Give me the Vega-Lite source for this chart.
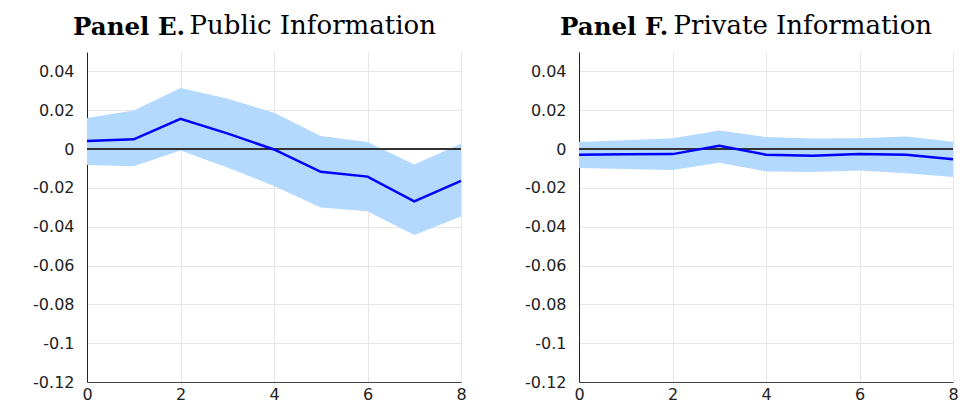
{
  "$schema": "https://vega.github.io/schema/vega-lite/v6.json",
  "padding": {"left": 32, "top": 12, "right": 0, "bottom": 0},
  "background": "white",
  "config": {
    "view": {"stroke": null},
    "axis": {"labelFont": "DejaVu Sans", "labelFontSize": 16, "labelColor": "#222222", "ticks": false, "gridColor": "#e6e6e6", "gridWidth": 1, "labelFlush": false}
  },
  "datasets": {
    "irf": [
      {"panel": "E", "t": 0, "lo": -0.0082, "mid": 0.0041, "hi": 0.016},
      {"panel": "E", "t": 1, "lo": -0.0089, "mid": 0.005, "hi": 0.0199},
      {"panel": "E", "t": 2, "lo": -0.0007, "mid": 0.0156, "hi": 0.0315},
      {"panel": "E", "t": 3, "lo": -0.0095, "mid": 0.0081, "hi": 0.026},
      {"panel": "E", "t": 4, "lo": -0.019, "mid": -0.0002, "hi": 0.0187},
      {"panel": "E", "t": 5, "lo": -0.0301, "mid": -0.0117, "hi": 0.0067},
      {"panel": "E", "t": 6, "lo": -0.032, "mid": -0.0142, "hi": 0.0037},
      {"panel": "E", "t": 7, "lo": -0.0443, "mid": -0.0269, "hi": -0.0079},
      {"panel": "E", "t": 8, "lo": -0.0348, "mid": -0.0164, "hi": 0.0027},
      {"panel": "F", "t": 0, "lo": -0.0098, "mid": -0.0029, "hi": 0.0036},
      {"panel": "F", "t": 1, "lo": -0.0103, "mid": -0.0027, "hi": 0.0046},
      {"panel": "F", "t": 2, "lo": -0.0108, "mid": -0.0026, "hi": 0.0056},
      {"panel": "F", "t": 3, "lo": -0.007, "mid": 0.0017, "hi": 0.0096},
      {"panel": "F", "t": 4, "lo": -0.0115, "mid": -0.0029, "hi": 0.0062},
      {"panel": "F", "t": 5, "lo": -0.0118, "mid": -0.0034, "hi": 0.0055},
      {"panel": "F", "t": 6, "lo": -0.0111, "mid": -0.0026, "hi": 0.0056},
      {"panel": "F", "t": 7, "lo": -0.0125, "mid": -0.0029, "hi": 0.0065},
      {"panel": "F", "t": 8, "lo": -0.0144, "mid": -0.0053, "hi": 0.0038}
    ]
  },
  "data": {"name": "irf"},
  "bounds": "flush",
  "spacing": 118,
  "hconcat": [
    {
      "width": 374,
      "height": 330,
      "title": {"text": "Panel E.", "anchor": "start", "frame": "group", "dx": -14, "dy": 47, "offset": 0, "baseline": "alphabetic", "font": "DejaVu Serif", "fontSize": 24.5, "fontWeight": "bold", "color": "#000000"},
      "transform": [{"filter": "datum.panel === 'E'"}],
      "resolve": {"axis": {"x": "independent", "y": "independent"}},
      "layer": [
        {
          "mark": {"type": "area", "color": "#b3d9ff", "opacity": 1},
          "encoding": {
            "x": {"field": "t", "type": "quantitative", "scale": {"domain": [0, 8], "nice": false, "zero": false},
                  "axis": {"orient": "bottom", "title": null, "values": [0, 2, 4, 6, 8], "grid": true, "domainColor": "#444444", "labelPadding": 4}},
            "y": {"field": "lo", "type": "quantitative", "scale": {"domain": [-0.12, 0.05], "nice": false, "zero": false},
                  "axis": {"title": null, "values": [-0.12, -0.1, -0.08, -0.06, -0.04, -0.02, 0, 0.02, 0.04], "grid": true, "domainColor": "#222222", "labelPadding": 13, "labelExpr": "toString(datum.value)"}},
            "y2": {"field": "hi"}
          }
        },
        {
          "mark": {"type": "rule", "color": "#333333", "strokeWidth": 1},
          "encoding": {"y": {"datum": 0, "type": "quantitative", "axis": null}}
        },
        {
          "mark": {"type": "line", "color": "#0000ff", "strokeWidth": 2.5},
          "encoding": {
            "x": {"field": "t", "type": "quantitative",
                  "axis": {"orient": "top", "labels": false, "domain": false, "grid": false, "title": "Public Information", "titleFont": "DejaVu Serif", "titleFontSize": 26, "titleFontWeight": "normal", "titleColor": "#000000", "titleAnchor": null, "titleAlign": "left", "titleBaseline": "alphabetic", "titleX": 102, "titleY": -19, "titlePadding": 0}},
            "y": {"field": "mid", "type": "quantitative", "axis": null}
          }
        }
      ]
    },
    {
      "width": 374,
      "height": 330,
      "title": {"text": "Panel F.", "anchor": "start", "frame": "group", "dx": -19, "dy": 47, "offset": 0, "baseline": "alphabetic", "font": "DejaVu Serif", "fontSize": 24.5, "fontWeight": "bold", "color": "#000000"},
      "transform": [{"filter": "datum.panel === 'F'"}],
      "resolve": {"axis": {"x": "independent", "y": "independent"}},
      "layer": [
        {
          "mark": {"type": "area", "color": "#b3d9ff", "opacity": 1},
          "encoding": {
            "x": {"field": "t", "type": "quantitative", "scale": {"domain": [0, 8], "nice": false, "zero": false},
                  "axis": {"orient": "bottom", "title": null, "values": [0, 2, 4, 6, 8], "grid": true, "domainColor": "#444444", "labelPadding": 4}},
            "y": {"field": "lo", "type": "quantitative", "scale": {"domain": [-0.12, 0.05], "nice": false, "zero": false},
                  "axis": {"title": null, "values": [-0.12, -0.1, -0.08, -0.06, -0.04, -0.02, 0, 0.02, 0.04], "grid": true, "domainColor": "#222222", "labelPadding": 13, "labelExpr": "toString(datum.value)"}},
            "y2": {"field": "hi"}
          }
        },
        {
          "mark": {"type": "rule", "color": "#333333", "strokeWidth": 1},
          "encoding": {"y": {"datum": 0, "type": "quantitative", "axis": null}}
        },
        {
          "mark": {"type": "line", "color": "#0000ff", "strokeWidth": 2.5},
          "encoding": {
            "x": {"field": "t", "type": "quantitative",
                  "axis": {"orient": "top", "labels": false, "domain": false, "grid": false, "title": "Private Information", "titleFont": "DejaVu Serif", "titleFontSize": 26, "titleFontWeight": "normal", "titleColor": "#000000", "titleAnchor": null, "titleAlign": "left", "titleBaseline": "alphabetic", "titleX": 94, "titleY": -19, "titlePadding": 0}},
            "y": {"field": "mid", "type": "quantitative", "axis": null}
          }
        }
      ]
    }
  ]
}
